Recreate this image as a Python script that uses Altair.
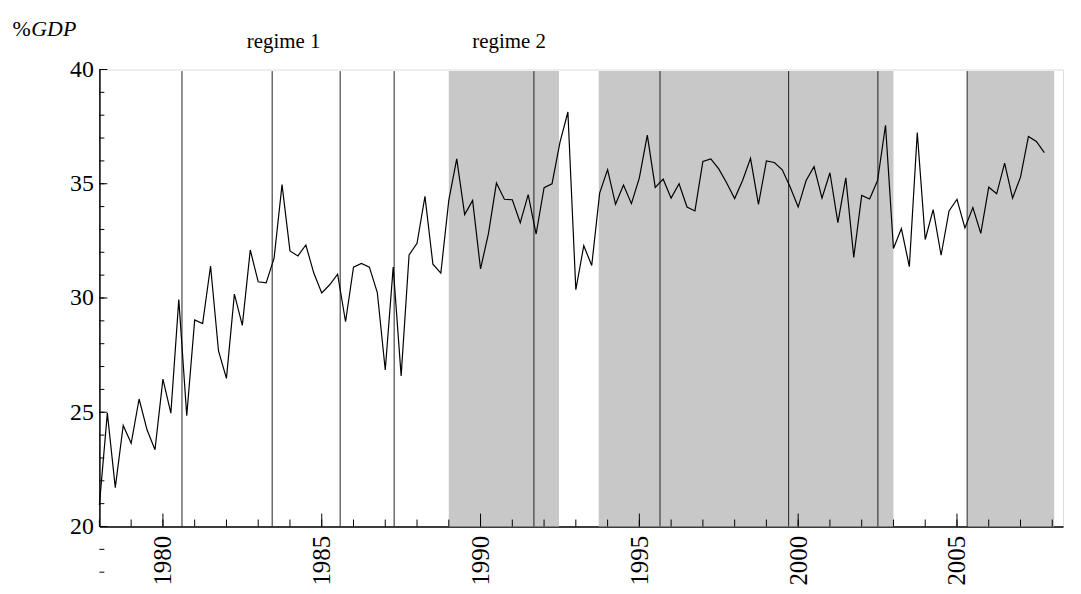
import altair as alt
import pandas as pd

# ---------------- data ----------------
start_year = 1978.0  # first quarter of the series (1978Q1)
values = [
    20.94, 24.96, 21.70, 24.42, 23.64, 25.58, 24.23, 23.36, 26.45, 24.96,
    29.93, 24.85, 29.04, 28.88, 31.40, 27.68, 26.48, 30.17, 28.80, 32.10,
    30.71, 30.66, 31.74, 34.96, 32.06, 31.84, 32.32, 31.09, 30.22, 30.58,
    31.04, 28.96, 31.35, 31.51, 31.35, 30.24, 26.85, 31.35, 26.59, 31.88,
    32.39, 34.45, 31.48, 31.09, 34.27, 36.09, 33.65, 34.27, 31.27, 32.83,
    35.03, 34.32, 34.30, 33.29, 34.52, 32.80, 34.83, 35.00, 36.81, 38.14,
    30.36, 32.29, 31.42, 34.59, 35.62, 34.10, 34.94, 34.13, 35.26, 37.13,
    34.84, 35.20, 34.37, 35.00, 33.98, 33.81, 35.98, 36.09, 35.65, 35.03,
    34.35, 35.14, 36.11, 34.10, 36.00, 35.93, 35.61, 34.85, 33.98, 35.14,
    35.75, 34.37, 35.48, 33.30, 35.26, 31.78, 34.49, 34.33, 35.14, 37.56,
    32.17, 33.04, 31.37, 37.24, 32.56, 33.87, 31.87, 33.81, 34.32, 33.07,
    33.96, 32.83, 34.85, 34.56, 35.90, 34.37, 35.29, 37.07, 36.85, 36.36,
]
quarter_years = [start_year + i * 0.25 for i in range(len(values))]

shade_start = [1989.00, 1993.72, 2005.33]
shade_end = [1992.47, 2003.00, 2008.06]
break_years = [1980.60, 1983.44, 1985.58, 1987.28, 1991.68,
               1995.65, 1999.70, 2002.51, 2005.32]
regime_labels = ["regime 1", "regime 2"]
regime_label_years = [1983.8, 1990.9]

x_major = [1980, 1985, 1990, 1995, 2000, 2005]
x_minor = list(range(1978, 2009))
y_major = [20, 25, 30, 35, 40]
y_minor = list(range(18, 41))

X_DOMAIN = [1978.0, 2008.34]
Y_DOMAIN = [20, 40]
SHADE_TOP = 39.93
W, H = 970, 460
FONT = "Liberation Serif"

# ---------------- tables ----------------
series_df = pd.DataFrame({"year": quarter_years, "value": values})
shade_df = pd.DataFrame({"start": shade_start, "end": shade_end})
break_df = pd.DataFrame({"year": break_years})
regime_df = pd.DataFrame({"label": regime_labels, "year": regime_label_years})
xmaj_df = pd.DataFrame({"year": x_major})
xmin_df = pd.DataFrame({"year": x_minor})
ymaj_df = pd.DataFrame({"v": y_major})
ymin_df = pd.DataFrame({"v": y_minor})

xs = alt.Scale(domain=X_DOMAIN, nice=False, zero=False)
ys = alt.Scale(domain=Y_DOMAIN, nice=False, zero=False)

x_axis = alt.Axis(values=x_major, format="d", labelAngle=-90, ticks=False,
                  grid=False, title=None, domainColor="black", domainWidth=1.5,
                  labelFont=FONT, labelFontSize=25, labelColor="black",
                  labelPadding=9)
y_axis = alt.Axis(values=y_major, format="d", ticks=False, grid=False,
                  title=None, domainColor="black", domainWidth=1.5,
                  labelFont=FONT, labelFontSize=24, labelColor="black",
                  labelPadding=6)

shade = alt.Chart(shade_df).mark_rect(color="#c8c8c8").encode(
    x=alt.X("start:Q", scale=xs, axis=x_axis),
    x2="end:Q",
    y=alt.Y(datum=20, scale=ys, axis=y_axis),
    y2=alt.datum(SHADE_TOP),
)

breaks = alt.Chart(break_df).mark_rule(color="#222222", strokeWidth=1).encode(
    x=alt.X("year:Q", scale=xs, axis=x_axis),
    y=alt.Y(datum=20, scale=ys, axis=y_axis),
    y2=alt.datum(SHADE_TOP),
)

line = alt.Chart(series_df).mark_line(color="black", strokeWidth=1.2).encode(
    x=alt.X("year:Q", scale=xs, axis=x_axis),
    y=alt.Y("value:Q", scale=ys, axis=y_axis),
)

xmaj_ticks = alt.Chart(xmaj_df).mark_rule(color="black", strokeWidth=1).encode(
    x=alt.X("year:Q", scale=xs, axis=x_axis),
    y=alt.value(H), y2=alt.value(H - 13),
)
xmin_ticks = alt.Chart(xmin_df).mark_rule(color="black", strokeWidth=1).encode(
    x=alt.X("year:Q", scale=xs, axis=x_axis),
    y=alt.value(H), y2=alt.value(H - 7),
)
ymaj_ticks = alt.Chart(ymaj_df).mark_rule(color="black", strokeWidth=1).encode(
    y=alt.Y("v:Q", scale=ys, axis=y_axis),
    x=alt.value(0), x2=alt.value(8),
)
ymin_ticks = alt.Chart(ymin_df).mark_rule(color="black", strokeWidth=1).encode(
    y=alt.Y("v:Q", scale=ys, axis=y_axis),
    x=alt.value(0), x2=alt.value(5),
)

regime_text = alt.Chart(regime_df).mark_text(
    font=FONT, fontSize=21, color="black", align="center", baseline="alphabetic"
).encode(
    x=alt.X("year:Q", scale=xs, axis=x_axis),
    y=alt.value(-21.5),
    text="label:N",
)

pct_text = alt.Chart(pd.DataFrame({"t": ["%"]})).mark_text(
    font=FONT, fontSize=22, color="black", align="left", baseline="alphabetic"
).encode(x=alt.value(-87.5), y=alt.value(-33.5), text="t:N")

gdp_text = alt.Chart(pd.DataFrame({"t": ["GDP"]})).mark_text(
    font=FONT, fontSize=22, fontStyle="italic", color="black", align="left",
    baseline="alphabetic"
).encode(x=alt.value(-68.5), y=alt.value(-33.5), text="t:N")

chart = alt.layer(
    shade, breaks, line, xmin_ticks, xmaj_ticks, ymin_ticks, ymaj_ticks,
    regime_text, pct_text, gdp_text,
).properties(
    width=W, height=H,
    padding={"left": 92, "top": 60, "right": 10, "bottom": 58},
    autosize=alt.AutoSizeParams(type="none"),
    background="white",
).configure_view(
    stroke=None
).configure_axis(
    labelFont=FONT, labelColor="black"
).configure_text(
    font=FONT
).configure(
    font=FONT
)

chart.save("out.html", embed_options={"renderer": "svg", "actions": False})
